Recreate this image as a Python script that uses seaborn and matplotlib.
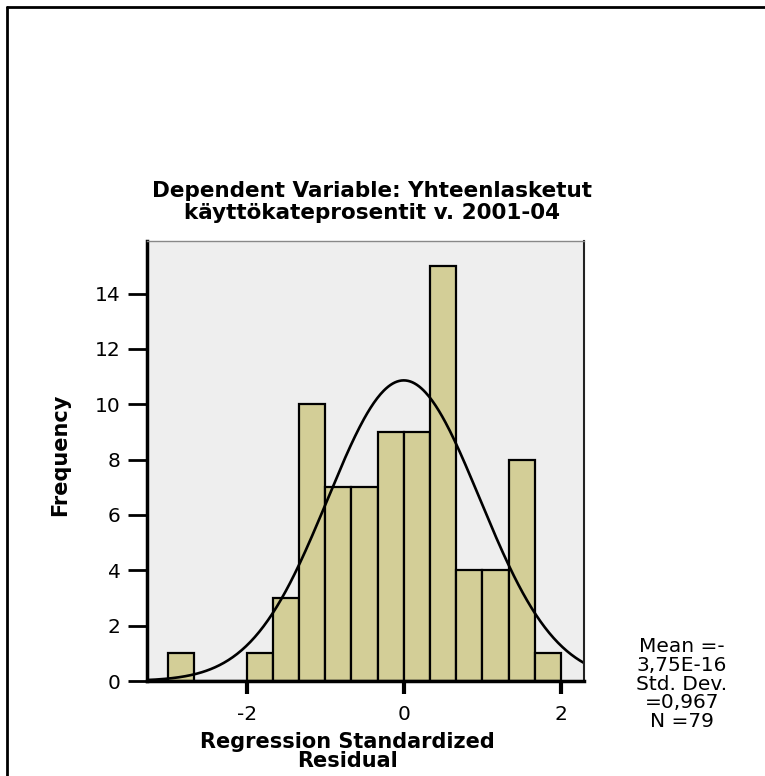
import numpy as np
import pandas as pd
import matplotlib
matplotlib.use("Agg")
import matplotlib.pyplot as plt
import seaborn as sns
from matplotlib.lines import Line2D

# histogram of regression standardized residuals (counts)
bin_start = -3.0
bin_width = 1 / 3
counts = [1, 0, 0, 1, 3, 10, 7, 7, 9, 9, 15, 4, 4, 8, 1]

# fitted normal curve parameters
resid_mean = 0.0
resid_std = 0.967
n_obs = 79

x_ticks = [-2, 0, 2]
y_ticks = [0, 2, 4, 6, 8, 10, 12, 14]
title_lines = ["Dependent Variable: Yhteenlasketut", "käyttökateprosentit v. 2001-04"]
xlabel_lines = ["Regression Standardized", "Residual"]
stats_lines = ["Mean =-", "3,75E-16", "Std. Dev.", "=0,967", "N =79"]

sns.set_style("white")
plt.rcParams["font.family"] = ["DejaVu Sans"]
plt.rcParams["text.color"] = "black"
plt.rcParams["axes.labelcolor"] = "black"
plt.rcParams["xtick.color"] = "black"
plt.rcParams["ytick.color"] = "black"

edges = [bin_start + bin_width * i for i in range(len(counts) + 1)]
centers = [(a + b) / 2 for a, b in zip(edges[:-1], edges[1:])]
hist_df = pd.DataFrame({"resid": centers, "count": counts})

fig = plt.figure(figsize=(7.65, 7.76), dpi=100)
ax = fig.add_axes([0.192, 0.1224, 0.571, 0.567])
ax.set_facecolor("#eeeeee")

sns.histplot(data=hist_df, x="resid", weights="count", bins=edges,
             color="#d3ce97", alpha=1, edgecolor="black", linewidth=1.6, ax=ax)

# normal curve scaled to counts
xs = np.linspace(-3.3, 2.3, 400)
ys = n_obs * bin_width * np.exp(-0.5 * ((xs - resid_mean) / resid_std) ** 2) / (resid_std * np.sqrt(2 * np.pi))
sns.lineplot(x=xs, y=ys, color="black", linewidth=1.9, ax=ax)

ax.set_xlim(-3.27, 2.29)
ax.set_ylim(0, 15.9)
ax.set_xticks(x_ticks)
ax.set_yticks(y_ticks)
ax.set_xticklabels([str(t) for t in x_ticks])
ax.tick_params(axis="y", left=True, direction="out", length=14, width=2, pad=5, labelsize=14.5, labelcolor="black")
ax.tick_params(axis="x", bottom=True, direction="out", length=9, width=3, pad=8, labelsize=14.5, labelcolor="black")

for side in ["left", "bottom"]:
    ax.spines[side].set_color("black")
    ax.spines[side].set_linewidth(2.5)
ax.spines["top"].set_color("#888888")
ax.spines["top"].set_linewidth(1.0)
ax.spines["right"].set_color("#222222")
ax.spines["right"].set_linewidth(1.5)

ax.set_xlabel("\n".join(xlabel_lines), fontsize=15, fontweight="bold", linespacing=0.92, color="black")
ax.xaxis.set_label_coords(0.46, -0.116)
ax.xaxis.label.set_va("top")
ax.set_ylabel("Frequency", fontsize=15, fontweight="bold", color="black")
ax.yaxis.set_label_coords(-0.175, 0.514)

fig.text(372 / 765, 1 - 202 / 776, "\n".join(title_lines), ha="center", va="center",
         fontsize=15.5, fontweight="bold", linespacing=1.08, color="black")
fig.text(682 / 765, 1 - 684 / 776, "\n".join(stats_lines), ha="center", va="center",
         fontsize=14.5, linespacing=0.98, color="black")

# outer chart frame (left and top edges visible)
fig.add_artist(Line2D([0.0085, 0.0085], [0, 0.9916], transform=fig.transFigure, color="black", lw=2))
fig.add_artist(Line2D([0.0085, 1], [0.9916, 0.9916], transform=fig.transFigure, color="black", lw=2))

fig.savefig("out.png", dpi=100)
